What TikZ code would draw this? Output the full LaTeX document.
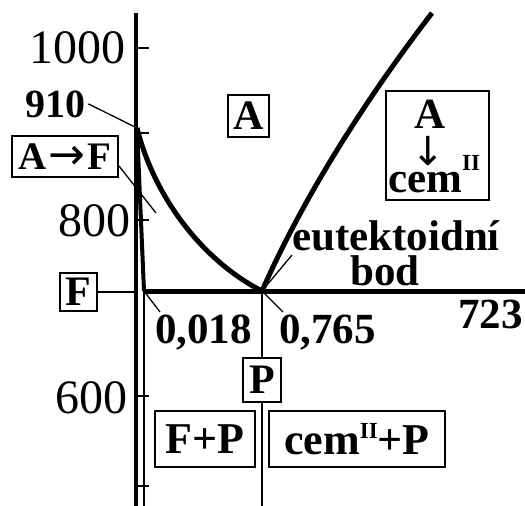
\documentclass[tikz,border=0pt]{standalone}
\usepackage{fontspec}
\setmainfont{Liberation Serif}
\newfontfamily\arrowfont{DejaVu Sans}
\newcommand{\supII}[2]{\raisebox{#1}{\fontsize{#2}{#2}\selectfont II}}
\begin{document}
\begin{tikzpicture}[x=1pt,y=-1pt,
  lbl/.style={inner sep=0pt, font=\bfseries\fontsize{43}{43}\selectfont},
  num/.style={inner sep=0pt, font=\fontsize{48}{48}\selectfont},
  box/.style={draw, line width=2pt, fill=white, inner sep=0pt, font=\bfseries\fontsize{42}{42}\selectfont},
  heavy/.style={line width=5pt},
  axisline/.style={line width=4pt},
  thinline/.style={line width=1.3pt},
  axtick/.style={line width=2.5pt}]
\useasboundingbox (0,0) rectangle (525,506);
% key points
\coordinate (axtop) at (136,13);
\coordinate (axbot) at (136,506);
\coordinate (G) at (137,128);
\coordinate (Q) at (144,291);
\coordinate (Qbot) at (144,506);
\coordinate (S) at (262,291);
\coordinate (Sbot) at (262,506);
\coordinate (E) at (525,291);
\coordinate (Ctop) at (432,13);
% axis and ticks
\draw[axisline] (axtop) -- (axbot);
\foreach \yy in {48,133,220,396,486} \draw[axtick] (137,\yy) -- (149,\yy);
% phase lines
\draw[axisline] (G) -- (Q);
\draw[heavy] (G) .. controls (155,200) and (205,262) .. (S);
\draw[heavy] (S) .. controls (301.6,201) and (362.7,103) .. (Ctop);
\draw[heavy] (Q) -- (E);
\draw[thinline] (Q) -- (Qbot);
% axis numbers
\node[num, anchor=base east] (t1000) at (126,63) {1000};
\node[num, anchor=base east] (t800) at (131,236) {800};
\node[num, anchor=base east] (t600) at (128,413) {600};
% labels
\node[lbl, font=\bfseries\fontsize{40}{40}\selectfont, anchor=base west, inner xsep=3pt] (t910) at (22,117) {910};
\node[lbl, anchor=base west] (t018) at (155,343) {0,018};
\node[lbl, anchor=base west] (t765) at (279,343) {0,765};
\node[lbl, anchor=base east] (t723) at (523,328) {723};
\node[lbl, anchor=base] (teut) at (396,250) {eutektoidní};
\node[lbl, anchor=base] (tbod) at (385,285) {bod};
\coordinate (eutend) at (292,255);
\coordinate (afend) at (156,213);
\coordinate (lead018) at (160,312);
\coordinate (lead765) at (283,312);
\coordinate (faxis) at (134,292);
% boxes
\node[box, font=\bfseries\fontsize{39}{39}\selectfont, minimum width=106, minimum height=41] (AF) at (65,156.5) {A\hspace{2pt}{\arrowfont\mdseries\fontsize{44}{44}\selectfont →}\hspace{2pt}F};
\node[box, minimum width=41, minimum height=42] (A) at (248.5,116) {A};
\node[box, minimum width=103, minimum height=109] (AC) at (437.5,145.5) {};
\node[lbl, anchor=base] (ACa) at (430,128) {A};
\node[inner sep=0pt, anchor=base, font=\arrowfont\fontsize{40}{40}\selectfont] (ACarrow) at (428,165) {↓};
\node[lbl, anchor=base west] (ACc) at (388,192) {cem\supII{22pt}{23}};
\node[box, minimum width=37, minimum height=38] (F) at (78.5,292) {F};
\node[box, minimum width=38, minimum height=44] (P) at (262,380) {P};
\node[box, font=\bfseries\fontsize{44}{44}\selectfont, minimum width=100, minimum height=56] (FP) at (205,439) {F+P};
\node[box, font=\bfseries\fontsize{44}{44}\selectfont, minimum width=176, minimum height=56] (CP) at (357,439) {cem\supII{16pt}{23}+P};
% leaders
\draw[thinline] (t910.east) -- (G);
\draw[thinline] (AF.-10) -- (afend);
\draw[thinline] (F.east) -- (faxis);
\draw[thinline] (Q) -- (lead018);
\draw[thinline] (S) -- (lead765);
\draw[thinline] (S) -- (eutend);
\draw[thinline] (S) -- (P.north);
\draw[thinline] (P.south) -- (Sbot);
\end{tikzpicture}
\end{document}
